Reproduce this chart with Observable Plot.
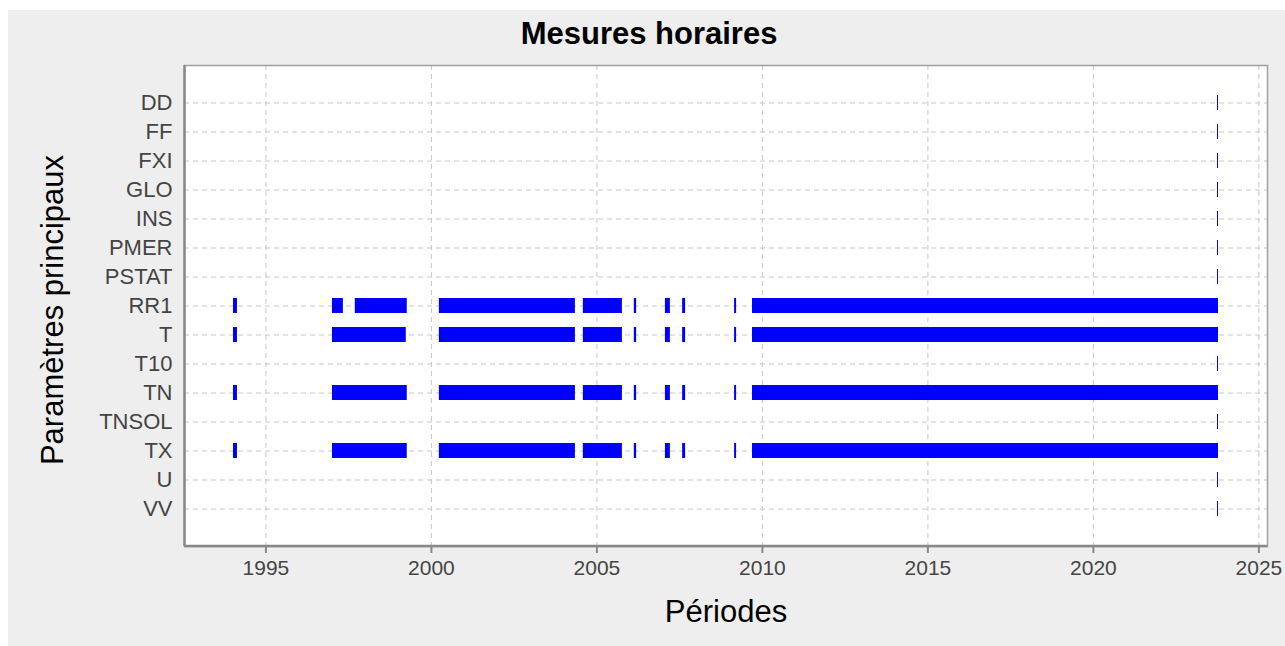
<!DOCTYPE html>
<html>
<head>
<meta charset="utf-8">
<script src="https://cdn.jsdelivr.net/npm/d3@7"></script>
<script src="https://cdn.jsdelivr.net/npm/@observablehq/plot@0.6"></script>
<style>
  html, body { margin: 0; padding: 0; background: #ffffff; }
  #chart { position: absolute; left: 8px; top: 10px; }
  svg text { font-family: "Liberation Sans", Arial, sans-serif; }
</style>
</head>
<body>
<div id="chart"></div>
<script>
// Parameters (top to bottom)
const params = ["DD", "FF", "FXI", "GLO", "INS", "PMER", "PSTAT", "RR1", "T", "T10", "TN", "TNSOL", "TX", "U", "VV"];
const tickYears = [1995, 2000, 2005, 2010, 2015, 2020, 2025];

// Measurement periods (decimal years), start / end
const rr1Start = [1994.02, 1997.01, 1997.70, 2000.24, 2004.59, 2006.13, 2007.07, 2007.59, 2009.16, 2009.70];
const rr1End   = [1994.14, 1997.34, 1999.27, 2004.35, 2005.77, 2006.20, 2007.22, 2007.68, 2009.22, 2023.78];
const tStart   = [1994.02, 1997.01, 2000.24, 2004.59, 2006.13, 2007.07, 2007.59, 2009.16, 2009.70];
const tEnd     = [1994.14, 1999.24, 2004.35, 2005.77, 2006.20, 2007.22, 2007.68, 2009.22, 2023.78];
const tnStart  = [1994.02, 1997.01, 2000.24, 2004.59, 2006.13, 2007.07, 2007.59, 2009.16, 2009.70];
const tnEnd    = [1994.14, 1999.27, 2004.35, 2005.77, 2006.20, 2007.22, 2007.68, 2009.22, 2023.78];
const txStart  = [1994.02, 1997.01, 2000.24, 2004.59, 2006.13, 2007.07, 2007.59, 2009.16, 2009.70];
const txEnd    = [1994.14, 1999.27, 2004.35, 2005.77, 2006.20, 2007.22, 2007.68, 2009.22, 2023.78];
// the other parameters only have a very short recent period
const recentStart = [2023.75];
const recentEnd   = [2023.78];

const series = {
  RR1: [rr1Start, rr1End],
  T: [tStart, tEnd],
  TN: [tnStart, tnEnd],
  TX: [txStart, txEnd]
};

const segments = [];
for (const p of params) {
  const [s, e] = series[p] || [recentStart, recentEnd];
  s.forEach((v, i) => segments.push({param: p, start: v, end: e[i]}));
}

const chart = Plot.plot({
  width: 1277,
  height: 636,
  marginTop: 55,
  marginLeft: 176,
  marginRight: 18,
  marginBottom: 100,
  style: {background: "#eeeeee", fontFamily: "Liberation Sans, Arial, sans-serif"},
  x: {domain: [1992.54, 2025.26]},
  y: {type: "band", domain: params, paddingInner: 0.49, paddingOuter: 0.94},
  marks: [
    Plot.frame({fill: "#ffffff", stroke: null}),
    Plot.gridX(tickYears, {stroke: "#c8c8c8", strokeOpacity: 1, strokeDasharray: "5,4", strokeWidth: 1}),
    Plot.gridY(params, {stroke: "#c8c8c8", strokeOpacity: 1, strokeDasharray: "5,4", strokeWidth: 1}),
    Plot.barX(segments, {x1: "start", x2: "end", y: "param", fill: "#0000ff"}),
    Plot.frame({stroke: "#a0a0a0", strokeWidth: 1.5}),
    Plot.axisX(tickYears, {
      tickSize: 7, tickPadding: 7, stroke: "#888888", strokeWidth: 2,
      fill: "#444444", fontSize: 21, tickFormat: d => String(d), label: null
    }),
    Plot.axisY(params, {tickSize: 0, tickPadding: 12, fill: "#444444", fontSize: 22, label: null}),
    Plot.ruleX([1992.54], {stroke: "#888888", strokeWidth: 2.5}),
    Plot.text(["Mesures horaires"], {frameAnchor: "top", lineAnchor: "middle", textAnchor: "middle", dx: -77, dy: -31, fontSize: 31, fontWeight: "bold", fill: "#000000"}),
    Plot.text(["Périodes"], {frameAnchor: "bottom", lineAnchor: "middle", textAnchor: "middle", dy: 66, fontSize: 31, fill: "#000000"}),
    Plot.text(["Paramètres principaux"], {frameAnchor: "left", lineAnchor: "middle", textAnchor: "middle", dx: -131, dy: 4, rotate: -90, fontSize: 31, fill: "#000000"})
  ]
});

document.getElementById("chart").appendChild(chart);
// thick bottom axis line along the frame bottom
const svg = d3.select(chart);
svg.append("line")
  .attr("x1", 176).attr("x2", 1277 - 18)
  .attr("y1", 636 - 100).attr("y2", 636 - 100)
  .attr("stroke", "#888888").attr("stroke-width", 2.5);
</script>
</body>
</html>
